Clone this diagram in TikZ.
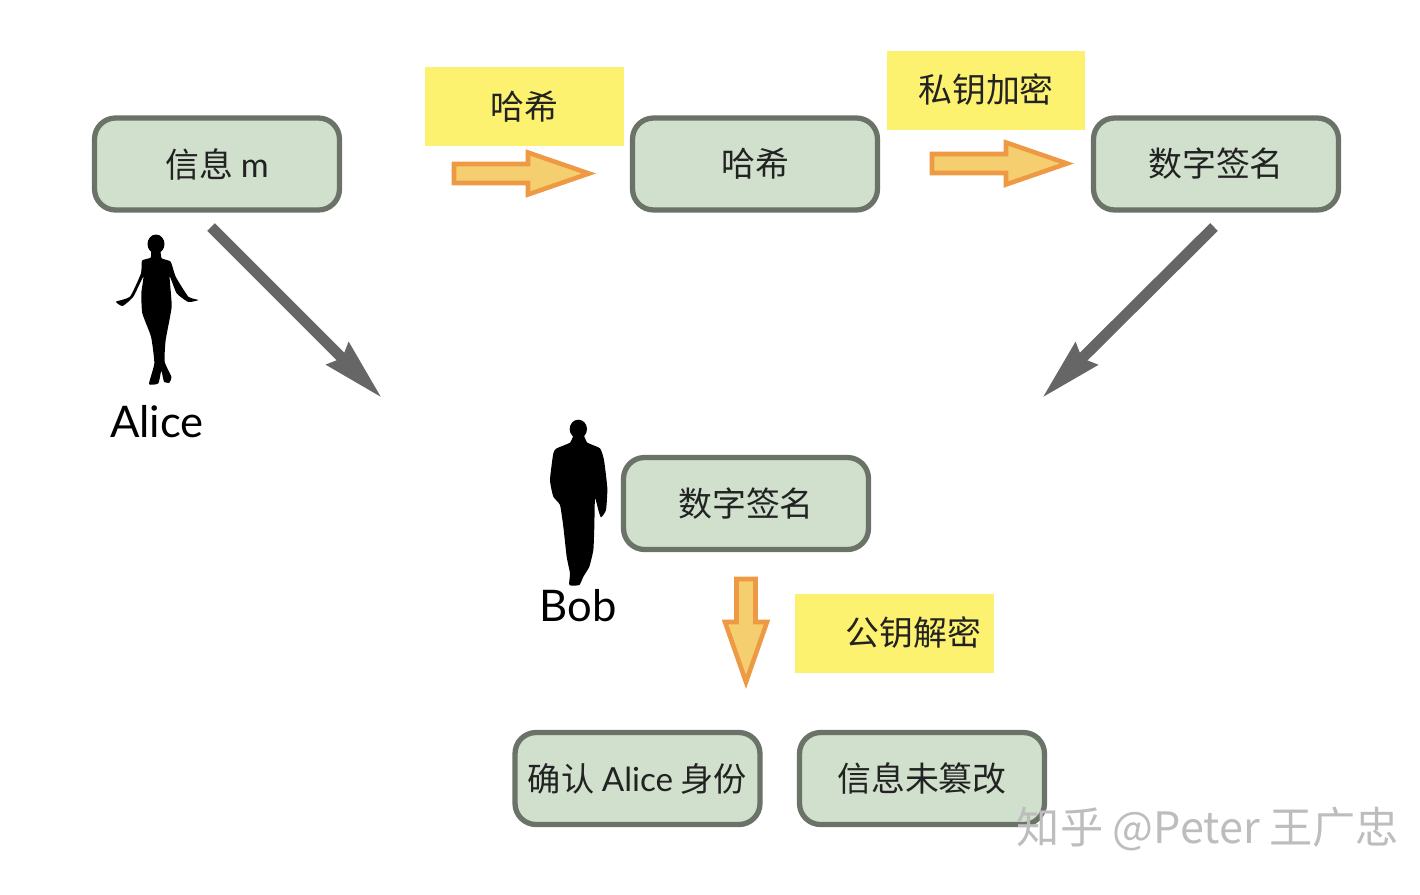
\documentclass[tikz,border=0pt]{standalone}
\usepackage{fontspec}
\setmainfont{Lato}
\newfontfamily\cjk{Noto Sans CJK SC}
\usepackage{tikz}
\usetikzlibrary{calc}
\usetikzlibrary{arrows.meta}
\definecolor{boxfill}{HTML}{D0E0CC}
\definecolor{boxline}{HTML}{6B7268}
\definecolor{notefill}{HTML}{FDF26F}
\definecolor{blockfill}{HTML}{F5CE70}
\definecolor{blockline}{HTML}{EE9A45}
\definecolor{sendline}{HTML}{666666}
\definecolor{inktext}{HTML}{222222}
\definecolor{marktext}{HTML}{BDBDBD}
\tikzstyle{msgbox} = [draw=boxline, fill=boxfill, line width=3pt, rounded corners=0.42cm, minimum width=4.9cm, minimum height=1.84cm, inner sep=0, text=inktext, font=\cjk\fontsize{19.3}{22}\selectfont]
\tikzstyle{notebox} = [fill=notefill, minimum width=3.98cm, minimum height=1.58cm, inner sep=0, text=inktext, font=\cjk\fontsize{19.3}{22}\selectfont]
\tikzstyle{namelabel} = [inner sep=0, text=black, font=\fontsize{24.8}{28}\selectfont]
\tikzstyle{sendarrow} = [draw=sendline, line width=6.2pt, -{Stealth[length=35pt,width=17pt,inset=3pt]}]
\tikzset{pics/blockarrow/.style 2 args={code={
    \draw[draw=blockline, fill=blockfill, line width=2.6pt, line join=miter]
        (0,-9.5) -- (#1,-9.5) -- (#1,-21) -- (#2,0) -- (#1,21) -- (#1,9.5) -- (0,9.5) -- cycle;
}}}

\begin{document}
\begin{tikzpicture}[x=0.02cm, y=-0.02cm]
    \useasboundingbox (0,0) rectangle (1420,894);

    % top row
    \node[msgbox] (msg_m) at (217,164) {信息 {\rmfamily m}};
    \node[msgbox] (msg_hash) at ($(msg_m)+(538,0)$) {哈希};
    \node[msgbox] (msg_sign) at ($(msg_hash)+(461,0)$) {数字签名};
    \node[notebox] (note_hash) at (524.5,106.5) {哈希};
    \node[notebox] (note_encrypt) at (986,90) {私钥加密};
    \pic at (454,173.5) {blockarrow={74}{135}};
    \pic at (932,163.5) {blockarrow={74}{135}};

    % Alice
    \fill (156,244) ellipse (8.5 and 9.5);
    \begin{scope}[shift={(80,100)}, x=0.00667cm, y=-0.00667cm]
        \fill[black] plot[smooth cycle, tension=0.3] coordinates {
            (215,450) (240,450) (245,475) (272,485) (287,530) (325,590) (355,600)
            (325,606) (290,580) (269,530) (275,620) (257,720) (254,785) (274,830)
            (268,848) (252,845) (244,812) (235,850) (207,852) (223,790) (213,710)
            (187,640) (184,580) (190,530) (160,590) (128,618) (108,605) (150,590)
            (183,520) (186,482) (212,473)};
    \end{scope}
    \node[namelabel] (name_alice) at (157,422) {Alice};

    % Bob
    \begin{scope}[shift={(500,410)}, x=0.00667cm, y=-0.00667cm]
        \fill (235,57) ellipse (26 and 28);
        \fill[black] plot[smooth cycle, tension=0.3] coordinates {
            (222,75) (250,75) (262,98) (300,115) (312,150) (322,235)
            (318,300) (303,322) (295,300) (285,265) (283,350) (280,420) (268,470)
            (250,500) (238,525) (208,525) (210,490) (200,440) (190,350) (180,285)
            (160,260) (150,210) (160,130) (170,115) (210,98)};
    \end{scope}
    \node[namelabel] (name_bob) at (578,606) {Bob};

    % sent to Bob
    \coordinate (send_m_from) at (211,227);
    \coordinate (send_m_to) at (382,398);
    \coordinate (send_sign_from) at (1214,227);
    \coordinate (send_sign_to) at (1042,398);
    \draw[sendarrow] (send_m_from) -- (send_m_to);
    \draw[sendarrow] (send_sign_from) -- (send_sign_to);

    % lower part
    \node[msgbox] (recv_sign) at (746,503.5) {数字签名};
    \pic[rotate=-90] at (746,579) {blockarrow={43}{103}};
    \node[notebox, text width=3.46cm, align=right] (note_decrypt) at (894.5,633) {公钥解密};
    \node[msgbox, font=\cjk\fontsize{18.9}{22}\selectfont] (res_alice) at (637.5,778.5) {确认 {\rmfamily Alice} 身份};
    \node[msgbox] (res_intact) at ($(res_alice)+(284.5,0)$) {信息未篡改};

    \node[inner sep=0, text=marktext, font=\cjk\fontsize{24.6}{28}\selectfont] (mark) at (1208,829) {知乎 @Peter 王广忠};
\end{tikzpicture}
\end{document}
